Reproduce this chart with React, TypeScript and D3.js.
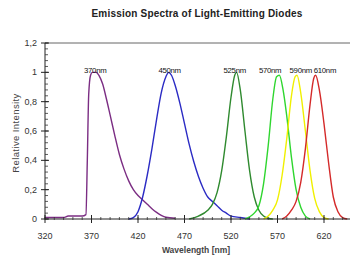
import React from "react";
import * as d3 from "d3";

const W = 350, H = 258;
const title = "Emission Spectra of Light-Emitting Diodes";
const xLabel = "Wavelength [nm]";
const yLabel = "Relative Intensity";
const xTicks = [320, 370, 420, 470, 520, 570, 620];
const yTicks = [0, 0.2, 0.4, 0.6, 0.8, 1, 1.2];

type P = [number, number];
const violet: P[] = [[320,0.01],[330,0.01],[340,0.01],[345,0.02],[350,0.02],[355,0.02],[360,0.02],[364,0.03],[365.5,0.4],[367,0.85],[369,0.98],[371,1.0],[375,1.0],[378,0.98],[382,0.92],[386,0.82],[390,0.71],[395,0.57],[400,0.44],[405,0.34],[410,0.26],[415,0.2],[420,0.16],[425,0.13],[430,0.1],[435,0.07],[440,0.045],[445,0.025],[450,0.012],[460,0.005]];
const blue: P[] = [[410,0],[415,0.01],[420,0.05],[425,0.15],[430,0.3],[435,0.48],[440,0.68],[445,0.86],[450,0.97],[453,1.0],[456,0.98],[460,0.91],[465,0.79],[470,0.65],[475,0.51],[480,0.39],[485,0.29],[490,0.21],[495,0.15],[500,0.12],[505,0.09],[510,0.06],[515,0.04],[520,0.02],[530,0.01],[540,0]];
const green: P[] = [[475,0],[485,0.02],[495,0.06],[500,0.1],[505,0.18],[510,0.33],[515,0.56],[520,0.83],[524,0.98],[526,1.0],[530,0.88],[535,0.6],[540,0.33],[545,0.15],[550,0.06],[555,0.02],[560,0.005],[565,0]];
const lime: P[] = [[535,0],[540,0.015],[545,0.04],[550,0.09],[555,0.24],[560,0.5],[565,0.82],[569,0.97],[572,0.98],[576,0.88],[580,0.7],[585,0.42],[590,0.2],[595,0.08],[600,0.02],[605,0]];
const yellow: P[] = [[555,0],[560,0.02],[565,0.06],[570,0.13],[575,0.3],[580,0.55],[585,0.84],[589,0.97],[591,0.98],[595,0.86],[600,0.6],[605,0.33],[610,0.14],[615,0.05],[620,0.01],[625,0]];
const red: P[] = [[575,0],[580,0.02],[585,0.06],[590,0.12],[595,0.25],[600,0.48],[605,0.78],[609,0.96],[611,0.98],[615,0.88],[620,0.65],[625,0.38],[630,0.15],[635,0.05],[640,0.01],[645,0]];

const seriesNames = ["370nm", "450nm", "525nm", "570nm", "590nm", "610nm"];
const seriesData = [violet, blue, green, lime, yellow, red];
const seriesColors = ["#7b2d83", "#2b2bc4", "#2f8a2f", "#2fd62f", "#f0f000", "#d42a2a"];
const labelX = [374, 454, 524, 562, 595, 621];

export default function App() {
  const left = 45, right = 350, top = 43, bottom = 219;
  const x = d3.scaleLinear().domain([320, 620]).range([left, 324]);
  const y = d3.scaleLinear().domain([0, 1.2]).range([bottom, top]);
  const line = d3.line<P>().x(d => x(d[0])).y(d => y(d[1])).curve(d3.curveMonotoneX);
  const xMinor = d3.range(320, 650, 10).filter(v => x(v) <= right);
  const yMinor = d3.range(0, 1.2001, 0.04);
  const fmt = (v: number) => String(Math.round(v * 10) / 10).replace(".", ",");
  return (
    <svg width={W} height={H} style={{ position: "absolute", left: 0, top: 0, background: "#fff" }} fontFamily="Liberation Sans, Arial, sans-serif">
      <text x={197} y={17} textAnchor="middle" fontSize={10} fontWeight="bold" fill="#222" letterSpacing={0.2}>{title}</text>
      <line x1={left} x2={right} y1={top} y2={top} stroke="#666" strokeWidth={1} />
      {seriesData.map((d, i) => (
        <path key={i} d={line(d) || ""} fill="none" stroke={seriesColors[i]} strokeWidth={1.4} />
      ))}
      <line x1={left} x2={right} y1={bottom} y2={bottom} stroke="#222" strokeWidth={1} />
      <line x1={left} x2={left} y1={top} y2={bottom} stroke="#222" strokeWidth={1} />
      {xMinor.map(v => (
        <line key={"xm" + v} x1={x(v)} x2={x(v)} y1={bottom - 2} y2={bottom + 1} stroke="#333" strokeWidth={0.8} />
      ))}
      {xTicks.map(v => (
        <g key={"xt" + v}>
          <line x1={x(v)} x2={x(v)} y1={bottom - 4} y2={bottom + 4} stroke="#222" strokeWidth={1} />
          <text x={x(v)} y={bottom + 20} textAnchor="middle" fontSize={9} fill="#333">{v}</text>
        </g>
      ))}
      {yMinor.map((v, i) => (
        <line key={"ym" + i} x1={left} x2={left + 3} y1={y(v)} y2={y(v)} stroke="#333" strokeWidth={0.8} />
      ))}
      {yTicks.map(v => (
        <g key={"yt" + v}>
          <line x1={left - 4} x2={left + 4} y1={y(v)} y2={y(v)} stroke="#222" strokeWidth={1} />
          <text x={left - 8} y={y(v) + 3} textAnchor="end" fontSize={9} fill="#333">{fmt(v)}</text>
        </g>
      ))}
      {seriesNames.map((n, i) => (
        <text key={"l" + i} x={x(labelX[i])} y={y(1) + 1} textAnchor="middle" fontSize={7.8} fill="#111" letterSpacing={-0.3}>{n}</text>
      ))}
      <text x={196} y={253} textAnchor="middle" fontSize={8.5} fontWeight="bold" fill="#444">{xLabel}</text>
      <text transform={`translate(19,133) rotate(-90)`} textAnchor="middle" fontSize={9.5} fill="#444" letterSpacing={0.4}>{yLabel}</text>
    </svg>
  );
}
